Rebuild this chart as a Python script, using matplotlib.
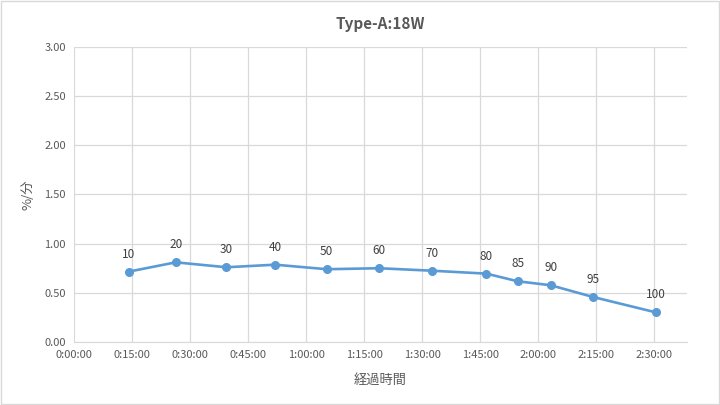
import matplotlib
matplotlib.use('Agg')
import matplotlib.pyplot as plt
from matplotlib.patches import Rectangle

plt.rcParams['font.family'] = ['Noto Sans CJK JP', 'DejaVu Sans']

# elapsed time (minutes) vs charge rate (%/min), labels = battery level
minutes = [14.1, 26.3, 39.4, 52.0, 65.3, 78.8, 92.4, 106.6, 114.7, 123.2, 134.1, 150.3]
rate = [0.715, 0.81, 0.76, 0.786, 0.74, 0.75, 0.725, 0.695, 0.617, 0.577, 0.458, 0.302]
level = [10, 20, 30, 40, 50, 60, 70, 80, 85, 90, 95, 100]
xticks = list(range(0, 151, 15))
yticks = [0.0, 0.5, 1.0, 1.5, 2.0, 2.5, 3.0]

grey = '#595959'
blue = '#5B9BD5'

fig = plt.figure(figsize=(7.2, 4.05), dpi=100)
ax = fig.add_axes([0.1028, 0.1556, 0.8512, 0.7284])

ax.plot(minutes, rate, color=blue, lw=1.9, marker='o', ms=5.5, zorder=3)
for x, y, lab in zip(minutes, rate, level):
    ax.annotate(str(lab), (x, y), xytext=(0, 8), textcoords='offset points',
                ha='center', va='bottom', fontsize=8.5, color='#404040')

ax.set_xlim(0, 158.4)
ax.set_ylim(0, 3.0)
ax.set_xticks(xticks)
ax.set_xticklabels(['{}:{:02d}:00'.format(m // 60, m % 60) for m in xticks])
ax.set_yticks(yticks)
ax.set_yticklabels(['{:.2f}'.format(v) for v in yticks])
ax.grid(True, color='#D9D9D9', lw=0.9)
ax.set_axisbelow(True)
for s in ['top', 'right', 'left']:
    ax.spines[s].set_visible(False)
ax.spines['bottom'].set_color('#D9D9D9')
ax.tick_params(length=0, labelsize=8, labelcolor=grey, pad=6)

ax.set_title('Type-A:18W', fontsize=11, fontweight='bold', color=grey, pad=13)
ax.set_xlabel('経過時間', fontsize=9.5, color=grey, labelpad=10)
ax.set_ylabel('%/分', fontsize=9.5, color=grey, labelpad=7)

fig.patches.append(Rectangle((0.002, 0.003), 0.996, 0.994, transform=fig.transFigure,
                             fill=False, edgecolor='#D9D9D9', lw=1))

fig.savefig('out.png', dpi=100)
